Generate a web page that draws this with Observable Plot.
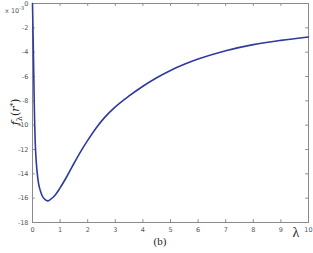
<!DOCTYPE html>
<html>
<head>
<meta charset="utf-8">
<script src="https://cdn.jsdelivr.net/npm/d3@7"></script>
<script src="https://cdn.jsdelivr.net/npm/@observablehq/plot@0.6"></script>
<style>
  html, body { margin: 0; padding: 0; background: #fff; }
</style>
</head>
<body>
<div id="chart"></div>
<script>
const lambda = [0, 0.01, 0.02, 0.04, 0.06, 0.08, 0.10, 0.13, 0.16, 0.22, 0.28, 0.35, 0.45, 0.55, 0.65, 0.8, 1.0, 1.25, 1.5, 1.75, 2.0, 2.3, 2.6, 3.0, 3.5, 4.0, 4.5, 5.0, 5.5, 6.0, 7.0, 8.0, 9.0, 10.0];
const fValues = [0, -1.2, -2.5, -5.0, -7.8, -10.0, -11.5, -12.8, -13.7, -14.8, -15.35, -15.8, -16.1, -16.22, -16.1, -15.8, -15.15, -14.2, -13.15, -12.15, -11.25, -10.25, -9.4, -8.5, -7.6, -6.8, -6.1, -5.5, -5.0, -4.57, -3.88, -3.38, -3.03, -2.75];
const xTicks = [0, 1, 2, 3, 4, 5, 6, 7, 8, 9, 10];
const yTicks = [0, -2, -4, -6, -8, -10, -12, -14, -16, -18];

const data = lambda.map((l, i) => ({l, f: fValues[i]}));
const gray = "#8a8a8a";
const tickFont = "DejaVu Sans, sans-serif";

const chart = Plot.plot({
  width: 313,
  height: 253,
  marginLeft: 32,
  marginRight: 5,
  marginTop: 3,
  marginBottom: 31,
  x: {domain: [0, 10], axis: null},
  y: {domain: [-18, 0], axis: null},
  style: {background: "#fff"},
  marks: [
    Plot.frame({stroke: gray, strokeWidth: 1}),
    Plot.ruleX(xTicks, {x: d => d, y1: -18, y2: -17.77, stroke: gray}),
    Plot.ruleX(xTicks, {x: d => d, y1: 0, y2: -0.23, stroke: gray}),
    Plot.ruleY(yTicks, {y: d => d, x1: 0, x2: 0.1, stroke: gray}),
    Plot.ruleY(yTicks, {y: d => d, x1: 10, x2: 9.9, stroke: gray}),
    Plot.text(xTicks, {x: d => d, y: -18, dy: 7, text: d => String(d), fontSize: 6.5, fill: "#555", fontFamily: tickFont}),
    Plot.text(yTicks, {x: 0, y: d => d, dx: -4, text: d => String(d), textAnchor: "end", fontSize: 6.5, fill: "#555", fontFamily: tickFont}),
    Plot.line(data, {x: "l", y: "f", stroke: "#2e3a9c", strokeWidth: 1.6, curve: "monotone-x"})
  ]
});

document.getElementById("chart").appendChild(chart);

const svg = d3.select(chart);
const ex = svg.append("text").attr("x", 5).attr("y", 13)
  .attr("text-anchor", "start")
  .attr("font-family", tickFont).attr("font-size", 6.5).attr("fill", "#555");
ex.append("tspan").text("x 10");
ex.append("tspan").attr("dy", -3).attr("font-size", 5).text("-3");

const yl = svg.append("text")
  .attr("transform", "translate(19,112) rotate(-90)")
  .attr("text-anchor", "middle")
  .attr("font-family", "DejaVu Serif, Liberation Serif, serif")
  .attr("font-size", 11).attr("fill", "#222");
yl.append("tspan").attr("font-style", "italic").text("f");
yl.append("tspan").attr("font-size", 8).attr("dy", 3).text("λ");
yl.append("tspan").attr("dy", -3).text("(");
yl.append("tspan").attr("font-style", "italic").text("r");
yl.append("tspan").attr("font-size", 7).attr("dy", -4).text("*");
yl.append("tspan").attr("dy", 4).text(")");

svg.append("text").attr("x", 296).attr("y", 237)
  .attr("text-anchor", "middle")
  .attr("font-family", "Liberation Serif, DejaVu Serif, serif")
  .attr("font-size", 14).attr("fill", "#222").text("λ");

svg.append("text").attr("x", 160).attr("y", 245)
  .attr("text-anchor", "middle")
  .attr("font-family", "Liberation Serif, DejaVu Serif, serif")
  .attr("font-size", 11).attr("fill", "#222").text("(b)");
</script>
</body>
</html>
